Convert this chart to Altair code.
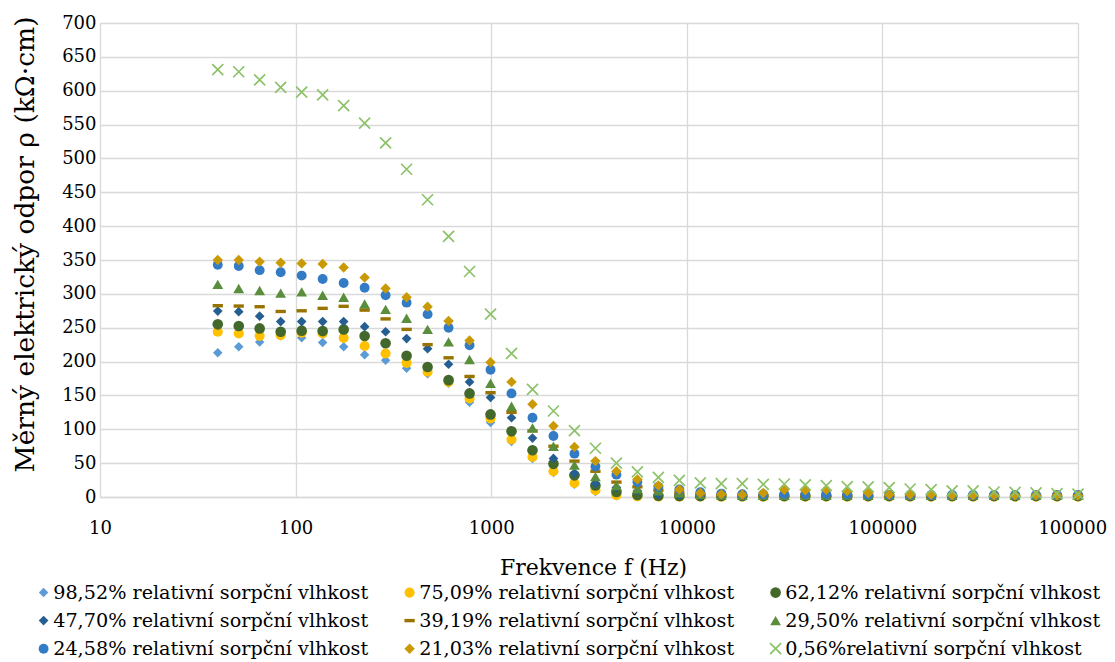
import altair as alt
import pandas as pd

# frequency points (Hz)
freq_hz = [40, 51.2, 65.5, 83.9, 107.4, 137.5, 176.1, 225.4, 288.5, 369.4,
           472.9, 605.4, 775.0, 992.1, 1270, 1626, 2081, 2665, 3411, 4367,
           5590, 7157, 9162, 11729, 15015, 19221, 24607, 31501, 40327, 51626,
           66090, 84607, 108311, 138657, 177506, 227238, 290904, 372408,
           476749, 610323, 781321, 1000000]

# series in drawing order (first drawn at the bottom)
series_names = [
    "98,52% relativní sorpční vlhkost",
    "75,09% relativní sorpční vlhkost",
    "62,12% relativní sorpční vlhkost",
    "47,70% relativní sorpční vlhkost",
    "39,19% relativní sorpční vlhkost",
    "29,50% relativní sorpční vlhkost",
    "24,58% relativní sorpční vlhkost",
    "21,03% relativní sorpční vlhkost",
    "0,56%relativní sorpční vlhkost",
]

rh_98_52 = [213, 222, 229, 238, 235, 228, 222, 210, 202, 190,
            182, 168, 140, 110, 82, 57, 36, 19, 8, 2,
            0.5, 0.5, 0.5, 0.5, 0.5, 0.5, 0.5, 0.5, 0.5, 0.5,
            0.5, 0.5, 0.5, 0.5, 0.5, 0.5, 0.5, 0.5, 0.5, 0.5, 0.5, 0.5]
rh_75_09 = [244, 241.6, 238, 239, 242.6, 241.6, 235, 223, 212, 198,
            185, 170, 145.5, 116, 85, 59, 38, 20.7, 10, 2.5,
            1, 0.5, 0.5, 0.5, 0.5, 0.5, 0.5, 0.5, 0.5, 0.5,
            0.5, 0.5, 0.5, 0.5, 0.5, 0.5, 0.5, 0.5, 0.5, 0.5, 0.5, 0.5]
rh_62_12 = [255, 252.5, 249, 244, 245.6, 245, 247.5, 237.7, 227, 208.6,
            192, 172.6, 153, 122, 97, 69, 49, 32, 17, 7.4,
            3, 2, 1.5, 1.5, 1.5, 1.5, 1.5, 1.5, 1.5, 1.5,
            1.5, 1.5, 1.5, 1.5, 1.5, 1.5, 1.5, 1.5, 1.5, 1.5, 1.5, 1.5]
rh_47_70 = [274.6, 273.7, 267, 259, 259, 259, 259, 251.5, 244, 234,
            219, 196, 170, 147, 117, 87, 57, 35, 20, 14,
            9, 3, 2, 1.5, 1.5, 1.5, 1.5, 1.5, 1.5, 1.5,
            1.5, 1.5, 1.5, 1.5, 1.5, 1.5, 1.5, 1.5, 1.5, 1.5, 1.5, 1.5]
rh_39_19 = [282.5, 282, 281, 274, 275, 278.6, 281.6, 276, 263, 247.5,
            225, 205.6, 178, 154, 125, 97.6, 75, 53, 38, 22,
            15, 10, 6, 4, 3, 2, 2, 2, 2, 2,
            2, 2, 2, 2, 2, 2, 2, 2, 2, 2, 2, 2]
rh_29_50 = [314, 308, 305, 301, 303, 298, 295, 285, 277, 264,
            247.5, 229, 203, 168, 134, 102, 75, 47, 30, 17,
            12, 9, 6, 4, 3, 2.5, 2.5, 2.5, 2.5, 2.5,
            2.5, 2.5, 2.5, 2.5, 2.5, 2.5, 2.5, 2.5, 2.5, 2.5, 2.5, 2.5]
rh_24_58 = [343, 341, 335, 332, 327, 322, 316, 309, 298, 287,
            270, 250, 224, 188, 153, 117, 90, 64, 45, 33,
            22, 15, 11, 7, 5, 4, 4, 4.5, 4.5, 4.5,
            4, 3.5, 3, 3, 3, 3, 3, 3, 3, 3, 3, 3]
rh_21_03 = [350, 350, 347.6, 346, 345, 344, 339, 324, 308, 295,
            281, 260, 231, 199, 170, 137, 105, 74, 53, 38,
            26, 17, 11, 6, 4, 3.5, 6, 10.8, 9.9, 10.8,
            8.9, 5.9, 3.5, 3.5, 3.5, 2.5, 2.5, 2.5, 2.5, 2.5, 2.5, 2]
rh_0_56 = [631, 628, 616, 605, 598, 594, 578, 552, 523, 484,
           439, 385, 333, 270, 212, 159, 127, 98, 72, 50,
           37, 29, 24.7, 21, 19.7, 19.7, 18.7, 19.2, 18, 16.8,
           15.3, 14.8, 13.8, 11.8, 10.8, 8.9, 8.9, 7.4, 6.9, 6.2, 4.9, 4.2]

all_series = [rh_98_52, rh_75_09, rh_62_12, rh_47_70, rh_39_19,
              rh_29_50, rh_24_58, rh_21_03, rh_0_56]

colors = ["#5B9BD5", "#FFC000", "#43682B", "#255E91", "#997300",
          "#5A8E3C", "#347BC6", "#C99A06", "#8DC26A"]

dash_path = "M-1,-0.33L1,-0.33L1,0.33L-1,0.33Z"
x_path = ("M-0.89,-1.11L1.11,0.89L0.89,1.11L-1.11,-0.89Z"
          "M-0.89,1.11L-1.11,0.89L0.89,-1.11L1.11,-0.89Z")
shapes = ["diamond", "circle", "circle", "diamond", dash_path,
          "triangle-up", "circle", "diamond", x_path]
sizes = [90, 100, 90, 121, 144, 130, 161, 161, 141]

# legend fills column by column: reorder so rows read as in the reference
legend_order = [0, 3, 6, 1, 4, 7, 2, 5, 8]
dom = [series_names[i] for i in legend_order]
col_range = [colors[i] for i in legend_order]
shape_range = [shapes[i] for i in legend_order]
size_range = [sizes[i] for i in legend_order]

x_ticks = [10, 100, 1000, 10000, 100000, 1000000]
y_ticks = list(range(0, 701, 50))

rows = []
for name, vals in zip(series_names, all_series):
    for f, v in zip(freq_hz, vals):
        rows.append({"series": name, "f": f, "rho": v})
df = pd.DataFrame(rows)

FONT = "DejaVu Serif"

legend = alt.Legend(
    title=None, orient="none", legendX=-66, legendY=559.9, columns=3,
    labelFont=FONT, labelFontSize=19.2, labelColor="#000000", labelLimit=400,
    labelOffset=0, rowPadding=8.1, columnPadding=31, padding=0,
)

chart = alt.Chart(df).mark_point(filled=True, opacity=1).encode(
    x=alt.X("f:Q",
            scale=alt.Scale(type="log", domain=[10, 1000000]),
            axis=alt.Axis(values=x_ticks, format="d", title="Frekvence f (Hz)",
                          labelBaseline="middle", labelPadding=31, labelFlush=False,
                          titleFontSize=22, titleY=70, titleX=493,
                          titleBaseline="middle",
                          domain=True, domainColor="#D9D9D9", domainWidth=1.3)),
    y=alt.Y("rho:Q",
            scale=alt.Scale(domain=[0, 700]),
            axis=alt.Axis(values=y_ticks, title="Měrný elektrický odpor ρ (kΩ·cm)",
                          labelPadding=4, titleFontSize=26.5, titleAngle=270,
                          titleX=-75, titleY=221, titleAlign="center",
                          titleBaseline="middle", domain=False)),
    color=alt.Color("series:N", scale=alt.Scale(domain=dom, range=col_range),
                    legend=legend),
    shape=alt.Shape("series:N", scale=alt.Scale(domain=dom, range=shape_range),
                    legend=legend),
    size=alt.Size("series:N", scale=alt.Scale(domain=dom, range=size_range),
                  legend=legend),
).properties(
    width=978, height=474,
    autosize=alt.AutoSizeParams(type="none"),
    padding={"left": 92, "top": 15, "right": 29, "bottom": 163},
).configure_view(stroke=None).configure_axis(
    labelFont=FONT, labelFontSize=18, labelColor="#000000",
    titleFont=FONT, titleFontWeight="normal", titleColor="#000000",
    grid=True, gridColor="#D9D9D9", gridWidth=1.3,
    ticks=False, tickSize=0,
)

chart.save("out.html", embed_options={"renderer": "svg", "actions": False})
